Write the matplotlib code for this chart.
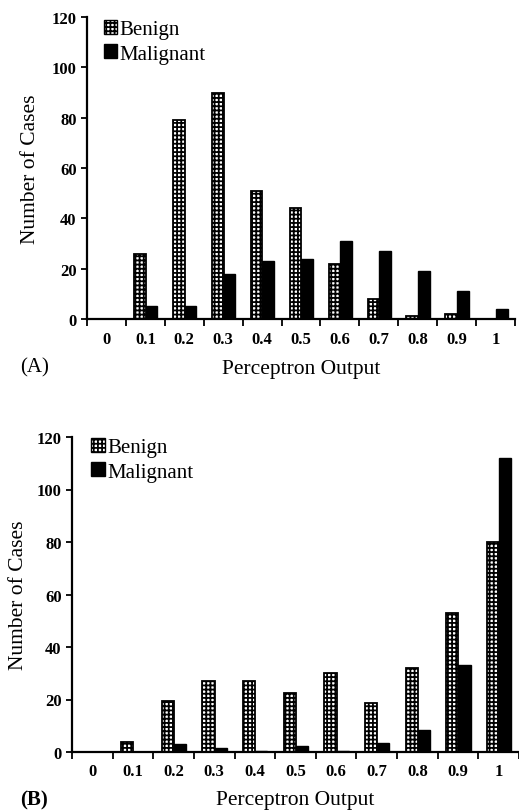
import matplotlib
matplotlib.use("Agg")
import matplotlib.pyplot as plt
import numpy as np
from matplotlib.patches import Patch

# Perceptron output bins (category labels)
bins = ["0", "0.1", "0.2", "0.3", "0.4", "0.5", "0.6", "0.7", "0.8", "0.9", "1"]

# Panel A counts
benign_a = [0, 26, 79, 90, 51, 44, 22, 8, 1, 2, 0]
malignant_a = [0, 5, 5, 18, 23, 24, 31, 27, 19, 11, 4]

# Panel B counts
benign_b = [0, 4, 19.5, 27, 27, 22.5, 30, 18.5, 32, 53, 80]
malignant_b = [0, 0, 3, 1.5, 0.5, 2.3, 0.3, 3.3, 8.5, 33, 112]

plt.rcParams['font.family'] = ['Liberation Serif', 'DejaVu Serif']
plt.rcParams['hatch.linewidth'] = 1.3
plt.rcParams['hatch.color'] = 'black'

W, H = 519, 812
fig = plt.figure(figsize=(W / 100, H / 100), dpi=100)


def px_axes(left, right, top, bottom):
    # convert pixel box to figure fraction
    return fig.add_axes([left / W, 1 - bottom / H, (right - left) / W, (bottom - top) / H])


def draw_panel(ax, benign, malignant, xmax, tick_pad, ylabelpad, leg_anchor):
    x = np.arange(len(bins))
    ax.bar(x - 0.14, benign, width=0.3, color='white', edgecolor='black',
           hatch='++++', linewidth=1.3)
    ax.bar(x + 0.16, malignant, width=0.3, color='black', edgecolor='black', linewidth=1.0)

    ax.set_xlim(-0.5, xmax)
    ax.set_ylim(0, 120)
    for side in ['top', 'right']:
        ax.spines[side].set_visible(False)
    for side in ['left', 'bottom']:
        ax.spines[side].set_linewidth(1.6)

    ax.set_xticks(x)
    ax.set_xticklabels(bins, fontsize=12, fontweight='bold')
    ax.set_xticks(np.arange(len(bins) + 1) - 0.5, minor=True)
    ax.tick_params(axis='x', which='major', length=0, pad=tick_pad)
    ax.tick_params(axis='x', which='minor', length=5, width=1.3, direction='out')
    ax.set_yticks(np.arange(0, 121, 20))
    ax.tick_params(axis='y', length=4, width=1.3, direction='out', labelsize=12)
    for lab in ax.get_yticklabels():
        lab.set_fontweight('bold')

    ax.set_ylabel('Number of Cases', fontsize=15.5, labelpad=ylabelpad)
    ax.set_xlabel('Perceptron Output', fontsize=15.5, labelpad=8)

    handles = [Patch(facecolor='white', edgecolor='black', hatch='++++', label='Benign'),
               Patch(facecolor='black', edgecolor='black', label='Malignant')]
    ax.legend(handles=handles, loc='upper left', frameon=False, fontsize=15,
              handlelength=0.65, handleheight=0.65, handletextpad=0.1,
              labelspacing=0.25, borderaxespad=0.1, bbox_to_anchor=leg_anchor)


ax_a = px_axes(87, 515, 18, 320)
draw_panel(ax_a, benign_a, malignant_a, 10.5, 9, 8, (0.015, 1.025))

ax_b = px_axes(72, 519, 438, 753)
draw_panel(ax_b, benign_b, malignant_b, 10.4, 8, 6, (0.02, 1.03))

fig.text(20 / W, 1 - 368 / H, '(A)', fontsize=15, va='center', ha='left')
fig.text(20 / W, 1 - 800 / H, '(B)', fontsize=15, va='center', ha='left', fontweight='bold')

fig.savefig('out.png', dpi=100)
